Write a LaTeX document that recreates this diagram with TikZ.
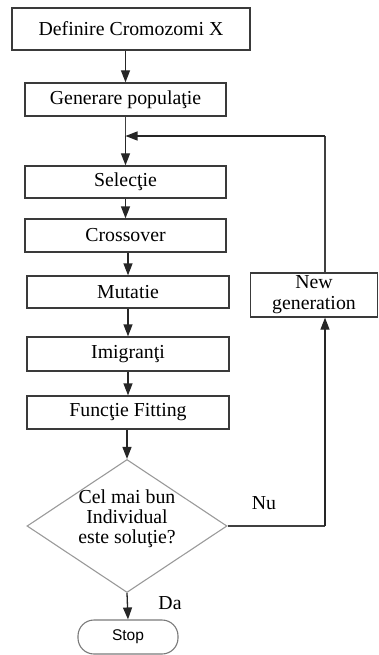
\documentclass[tikz,border=0pt]{standalone}
\usepackage{fontspec}
\setmainfont{Liberation Serif}
\newfontfamily\stopfont{Liberation Sans}
\usetikzlibrary{shapes.geometric,arrows.meta}
\definecolor{boxline}{HTML}{3A3A3A}
\definecolor{dialine}{HTML}{9A9A9A}
\definecolor{stopline}{HTML}{7A7A7A}
\tikzset{
  txt/.style={font=\fontsize{19.8}{21}\selectfont},
  stepbox/.style={draw=boxline, line width=1.3pt, minimum width=201pt, minimum height=33pt, inner sep=0pt,
    txt, align=center},
  arr/.style={draw=black!85, line width=1.3pt, -{Triangle[length=12pt,width=9pt]}},
  ln/.style={draw=black!75, line width=1.3pt},
}
\begin{document}
\begin{tikzpicture}[x=1pt,y=-1pt]
\useasboundingbox (0,0) rectangle (379,655);
\node[stepbox, minimum width=238pt, minimum height=42pt] (def) at (131,29) {Definire Cromozomi X};
\node[stepbox] (gen) at (125.5,99.5) {Generare populaţie};
\node[stepbox, minimum height=32pt] (sel) at (125.5,182) {Selecţie};
\node[stepbox] (cro) at (125.5,235.5) {Crossover};
\node[stepbox, minimum width=202pt, minimum height=32pt] (mut) at (128,292) {Mutatie};
\node[stepbox, minimum width=202pt, minimum height=34pt] (imi) at (128,354) {Imigranţi};
\node[stepbox, minimum width=202pt] (fit) at (128,412.5) {Funcţie Fitting};
\node[diamond, draw=dialine, line width=1.1pt, minimum width=200pt, minimum height=133pt, inner sep=0pt,
  txt, aspect=1.5] (dec) at (127,526)
  {\raisebox{1pt}[0pt][0pt]{\renewcommand{\arraystretch}{0.95}\begin{tabular}{@{}c@{}}Cel mai bun\\Individual\\este soluţie?\end{tabular}}};
\node[draw=stopline, line width=1.1pt, rounded corners=16pt, minimum width=100pt, minimum height=34pt,
  inner sep=0pt, font=\stopfont\fontsize{15.5}{18}\selectfont] (stop) at (128,637) {Stop};
\node[stepbox, minimum width=127pt, minimum height=44pt] (newg) at (314,295) {New\\generation};
\coordinate (join) at (125.5,136);
\coordinate (corner) at (325,526);
\coordinate (top) at (325,136);

\draw[arr] (def.south -| gen) -- (gen.north);
\draw[ln] (gen.south) -- (join);
\draw[arr] (join) -- (sel.north);
\draw[arr] (sel.south) -- (cro.north);
\draw[arr] (cro.south -| mut) -- (mut.north);
\draw[arr] (mut.south) -- (imi.north);
\draw[arr] (imi.south) -- (fit.north);
\draw[arr] (fit.south -| dec) -- (dec.north);
\draw[arr] (dec.south) -- (stop.north);
\draw[ln] (dec.east) -- (corner);
\draw[arr] (corner) -- (newg.south -| corner);
\draw[ln] (newg.north -| top) -- (top);
\draw[arr] (top) -- (join);

\node[txt] (nu) at (264,503) {Nu};
\node[txt] (da) at (170,603) {Da};
\end{tikzpicture}
\end{document}
